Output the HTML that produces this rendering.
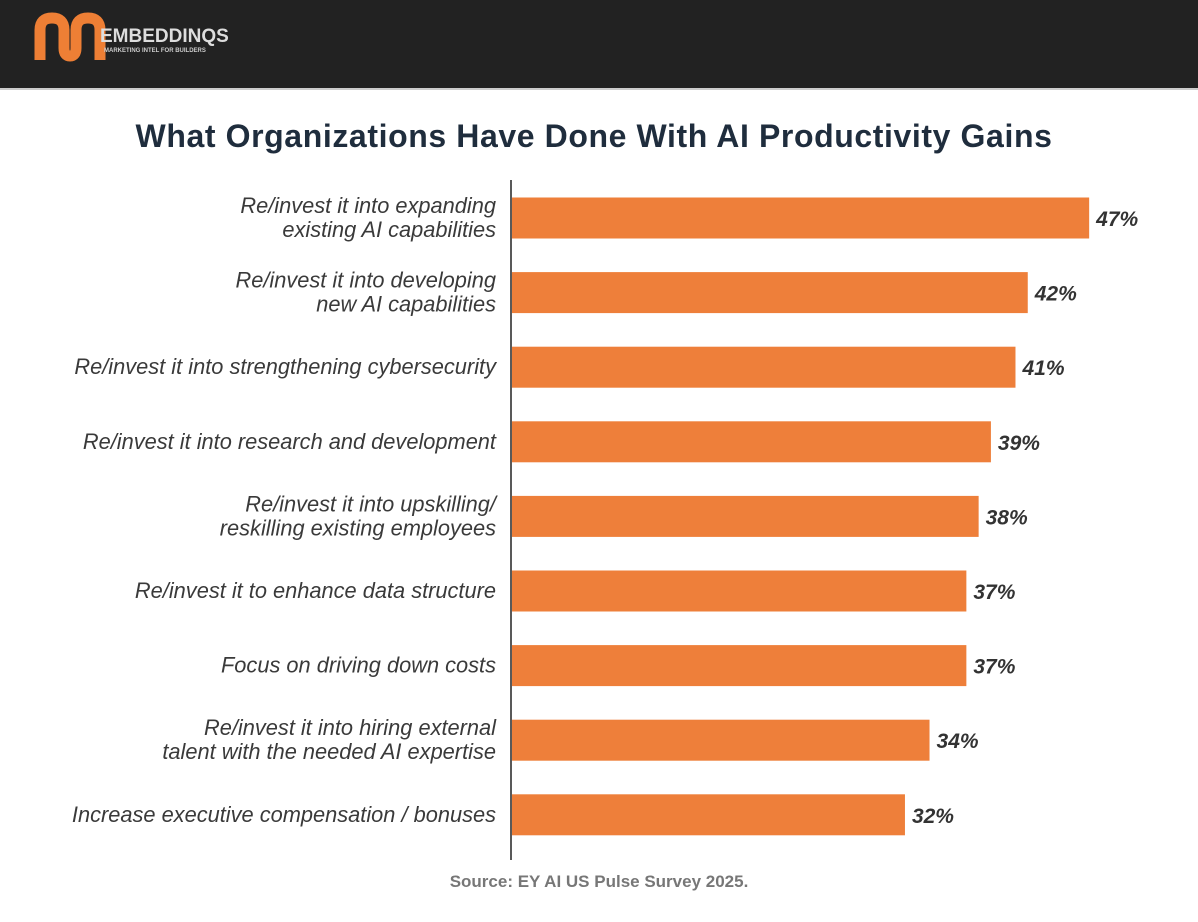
<!DOCTYPE html>
<html><head><meta charset="utf-8"><style>
body{margin:0;width:1198px;height:922px;background:#fff;font-family:"Liberation Sans",sans-serif;overflow:hidden;position:relative}
#hdr{position:absolute;left:0;top:0;width:1198px;height:88px;background:#222;border-bottom:2px solid #ccc}
</style></head><body>
<div id="hdr">
<svg width="300" height="88">
<path d="M40 60 V30 Q40 18 52 18 Q64 18 64 30 V48 Q64 56 70 56 Q76 56 76 48 V30 Q76 18 88 18 Q100 18 100 30 V60" fill="none" stroke="#ee7f35" stroke-width="11"/>
<text x="100" y="42" fill="#ddd" font-size="19" font-weight="bold">EMBEDDINQS</text>
<text x="104" y="52" fill="#ccc" font-size="6" font-weight="bold">MARKETING INTEL FOR BUILDERS</text>
</svg></div>
<svg id="chart" width="1198" height="922" style="position:absolute;left:0;top:0"></svg>
<script>
const categories=[["Re/invest it into expanding","existing AI capabilities"],["Re/invest it into developing","new AI capabilities"],["Re/invest it into strengthening cybersecurity"],["Re/invest it into research and development"],["Re/invest it into upskilling/","reskilling existing employees"],["Re/invest it to enhance data structure"],["Focus on driving down costs"],["Re/invest it into hiring external","talent with the needed AI expertise"],["Increase executive compensation / bonuses"]];
const values=[47,42,41,39,38,37,37,34,32];
const valueLabels=["47%","42%","41%","39%","38%","37%","37%","34%","32%"];
const NS="http://www.w3.org/2000/svg",svg=document.getElementById('chart');
const x=v=>512+v*12.28;
const y=i=>218+i*74.6;
function mk(t,a){const e=document.createElementNS(NS,t);for(const k in a)e.setAttribute(k,a[k]);svg.appendChild(e);return e;}
let t=mk('text',{x:594,y:147,'text-anchor':'middle','font-size':32,'font-weight':'bold',fill:'#1f2d3d','letter-spacing':'0.6'});
t.textContent="What Organizations Have Done With AI Productivity Gains";


values.forEach((v,i)=>{
 const r=mk('rect',{x:x(0),y:y(i)-20.5,width:x(v)-x(0),height:41,fill:'#ee7f3a'});
 
 
 const l=mk('text',{x:x(v)+7,y:y(i)+8,'font-size':21,'font-weight':'bold','font-style':'italic',fill:'#333'});
 l.textContent=valueLabels[i];
 
 
 const lines=categories[i];
 lines.forEach((s,j)=>{
  const c=mk('text',{x:496,y:y(i)+7+(j-(lines.length-1)/2)*24,'text-anchor':'end','font-size':21.8,'font-style':'italic',fill:'#3a3a3a'});
  c.textContent=s;
  
  
 });
});
const ax=mk('line',{x1:511,x2:511,y1:180,y2:860,stroke:'#222','stroke-width':1.5});


const src=mk('text',{x:599,y:887,'text-anchor':'middle','font-size':17,'font-weight':'bold',fill:'#777'});
src.textContent="Source: EY AI US Pulse Survey 2025.";


</script>
</body></html>
